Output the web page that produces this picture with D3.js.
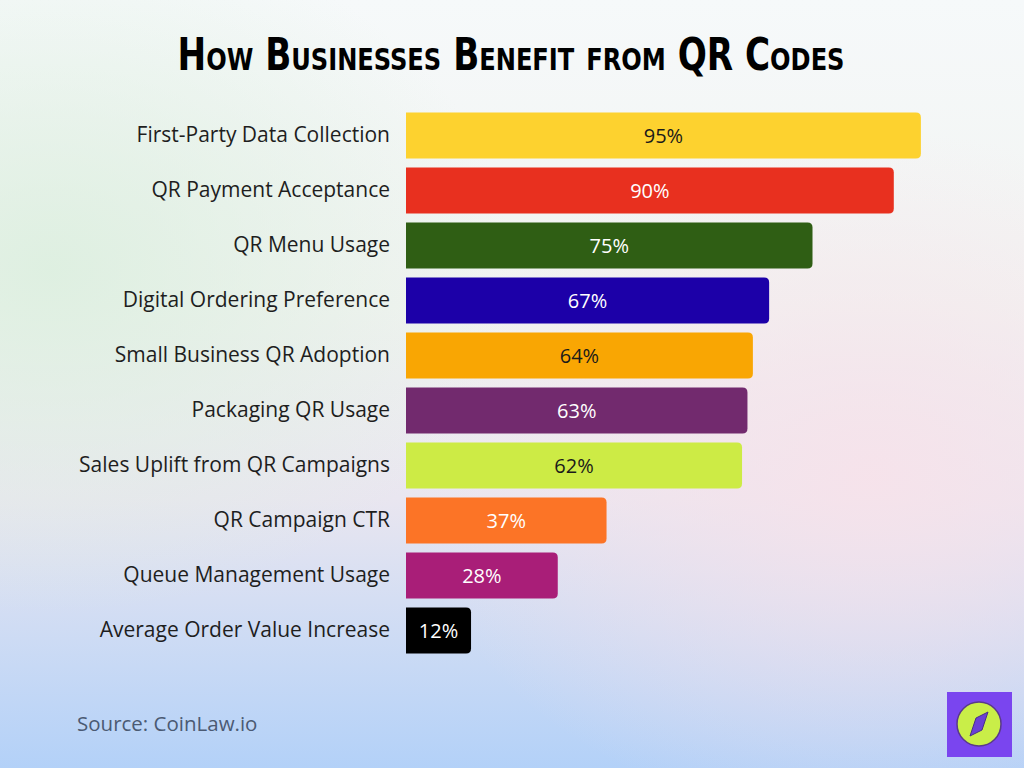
<!DOCTYPE html>
<html>
<head>
<meta charset="utf-8">
<script src="https://cdn.jsdelivr.net/npm/d3@7"></script>
<style>
  body { margin: 0; }
  svg { display: block; }
</style>
</head>
<body>
<svg id="chart" width="1024" height="768"></svg>
<script>
// data
const categories = [
    "First-Party Data Collection",
    "QR Payment Acceptance",
    "QR Menu Usage",
    "Digital Ordering Preference",
    "Small Business QR Adoption",
    "Packaging QR Usage",
    "Sales Uplift from QR Campaigns",
    "QR Campaign CTR",
    "Queue Management Usage",
    "Average Order Value Increase"
];
const values = [95, 90, 75, 67, 64, 63, 62, 37, 28, 12];
const barColors = ["#fdd22f", "#e8301f", "#2f5e14", "#1c00a8", "#f9a603", "#722a6e", "#cdeb45", "#fc7426", "#a91e78", "#000000"];
const labelColors = ["#1a1a1a", "#ffffff", "#ffffff", "#ffffff", "#1a1a1a", "#ffffff", "#1a1a1a", "#ffffff", "#ffffff", "#ffffff"];

const svg = d3.select("#chart");
const defs = svg.append("defs");

// background gradients
const bg = defs.append("linearGradient").attr("id", "bg").attr("x1", 0).attr("y1", 0).attr("x2", 0).attr("y2", 1);
bg.append("stop").attr("offset", "0%").attr("stop-color", "#f6f9fa");
bg.append("stop").attr("offset", "40%").attr("stop-color", "#f1f3f1");
bg.append("stop").attr("offset", "65%").attr("stop-color", "#e9e6f0");
bg.append("stop").attr("offset", "100%").attr("stop-color", "#b3d1f8");

const green = defs.append("radialGradient").attr("id", "green").attr("cx", 0.05).attr("cy", 0.35).attr("r", 0.45);
green.append("stop").attr("offset", "0%").attr("stop-color", "#dcefdf").attr("stop-opacity", 0.9);
green.append("stop").attr("offset", "100%").attr("stop-color", "#dcefdf").attr("stop-opacity", 0);

const pink = defs.append("radialGradient").attr("id", "pink").attr("cx", 0.85).attr("cy", 0.62).attr("r", 0.45);
pink.append("stop").attr("offset", "0%").attr("stop-color", "#f7e2ea").attr("stop-opacity", 0.9);
pink.append("stop").attr("offset", "100%").attr("stop-color", "#f7e2ea").attr("stop-opacity", 0);

svg.append("rect").attr("width", 1024).attr("height", 768).attr("fill", "url(#bg)");
svg.append("rect").attr("width", 1024).attr("height", 768).attr("fill", "url(#green)");
svg.append("rect").attr("width", 1024).attr("height", 768).attr("fill", "url(#pink)");

// title
svg.append("text")
    .attr("x", 511)
    .attr("y", 70)
    .attr("text-anchor", "middle")
    .attr("textLength", 667)
    .attr("lengthAdjust", "spacingAndGlyphs")
    .style("font-family", "'Liberation Sans Narrow', 'DejaVu Sans Condensed', sans-serif")
    .style("font-weight", "bold")
    .style("font-variant", "small-caps")
    .style("font-size", "44px")
    .attr("fill", "#000")
    .text("How Businesses Benefit from QR Codes");

// scales
const x = d3.scaleLinear().domain([0, 100]).range([406, 948]);
const y = d3.scaleBand().domain(categories).range([108, 658]).paddingInner(0.164).paddingOuter(0.082);

const rows = categories.map((c, i) => ({ name: c, value: values[i], color: barColors[i], textColor: labelColors[i] }));

// bars: square left edge, rounded right edge
const r = 5;
function barPath(d) {
    const x0 = x(0), x1 = x(d.value), y0 = y(d.name), h = y.bandwidth();
    return `M${x0},${y0} H${x1 - r} Q${x1},${y0} ${x1},${y0 + r} V${y0 + h - r} Q${x1},${y0 + h} ${x1 - r},${y0 + h} H${x0} Z`;
}

svg.append("g")
    .selectAll("path")
    .data(rows)
    .join("path")
    .attr("d", barPath)
    .attr("fill", d => d.color);

svg.append("g")
    .selectAll("text")
    .data(rows)
    .join("text")
    .attr("x", d => (x(0) + x(d.value)) / 2)
    .attr("y", d => y(d.name) + y.bandwidth() / 2)
    .attr("dy", "0.36em")
    .attr("text-anchor", "middle")
    .style("font-family", "'Open Sans', Roboto, sans-serif")
    .style("font-size", "20px")
    .attr("fill", d => d.textColor)
    .text(d => d.value + "%");

// category labels
svg.append("g")
    .selectAll("text")
    .data(rows)
    .join("text")
    .attr("x", 390)
    .attr("y", d => y(d.name) + y.bandwidth() / 2)
    .attr("dy", "0.3em")
    .attr("text-anchor", "end")
    .style("font-family", "'Open Sans', Roboto, sans-serif")
    .style("font-size", "21px")
    .attr("fill", "#1e1e1e")
    .text(d => d.name);

// source
svg.append("text")
    .attr("x", 77)
    .attr("y", 731)
    .style("font-family", "'Open Sans', Roboto, sans-serif")
    .style("font-size", "20.5px")
    .attr("fill", "#4b5a73")
    .text("Source: CoinLaw.io");

// logo
const logo = svg.append("g").attr("transform", "translate(979,724)");
logo.append("rect").attr("x", -32).attr("y", -32).attr("width", 65).attr("height", 65).attr("fill", "#7a45ef");
logo.append("circle").attr("r", 22).attr("fill", "#c9ee48").attr("stroke", "#5a3a8a").attr("stroke-width", 1.5);
logo.append("path")
    .attr("d", "M9,-12 L3,6 L-9,12 L-3,-6 Z")
    .attr("fill", "#6a3fd6")
    .attr("stroke", "#4a2f86")
    .attr("stroke-width", 1);
</script>
</body>
</html>
